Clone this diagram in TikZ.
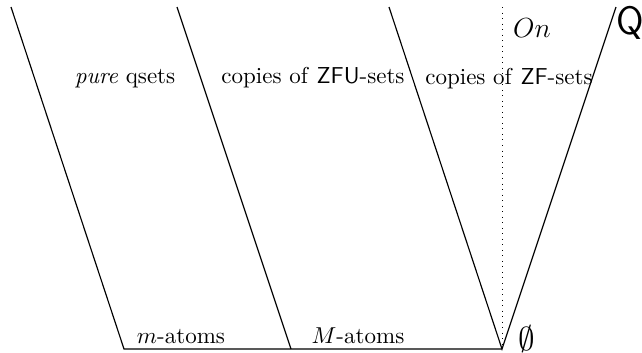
\documentclass[tikz,border=0pt]{standalone}
\usepackage{amssymb}
\usetikzlibrary{positioning}
\tikzset{
x=0.4348pt, % one unit is one pixel of the sketch
y=-0.4348pt, % y runs downwards, as in the sketch
region/.style={anchor=base}, % the texts sit on their baseline
wall/.style={line width=0.5pt}, % the slanted boundaries
}

\begin{document}
\begin{tikzpicture}
    \useasboundingbox (0,0) rectangle (642,352);
    % corners of the boundaries
    \coordinate (a1) at (11,7);
    \coordinate (a2) at (124,349);
    \coordinate (b1) at (177,7);
    \coordinate (b2) at (291,349);
    \coordinate (c1) at (389,7);
    \coordinate (d1) at (616,7);
    \coordinate (v) at (502,349);
    \coordinate (o1) at (502,7);
    \draw[wall] (a1) -- (a2) -- (v);
    \draw[wall] (b1) -- (b2);
    \draw[wall] (c1) -- (v) -- (d1);
    \draw[dotted] (o1) -- (v);
    % texts
    \node[region] (pure) at (125,83) {\textit{pure} qsets};
    \node[region] (zfu) at (313,83) {copies of \textsf{ZFU}-sets};
    \node[region] (zf) at (509,84) {copies of \textsf{ZF}-sets};
    \node[region] (matoms) at (181,343) {$m$-atoms};
    \node[region] (Matoms) at (358,343) {$M$-atoms};
    \node[region, font=\large] (on) at (532,37) {$On$};
    \node[anchor=base west, inner sep=0pt, font=\LARGE\sffamily] (Q) at (616,34) {Q};
    \node[font=\Large] (empty) at (527,339) {$\emptyset$};
  \end{tikzpicture}
\end{document}
